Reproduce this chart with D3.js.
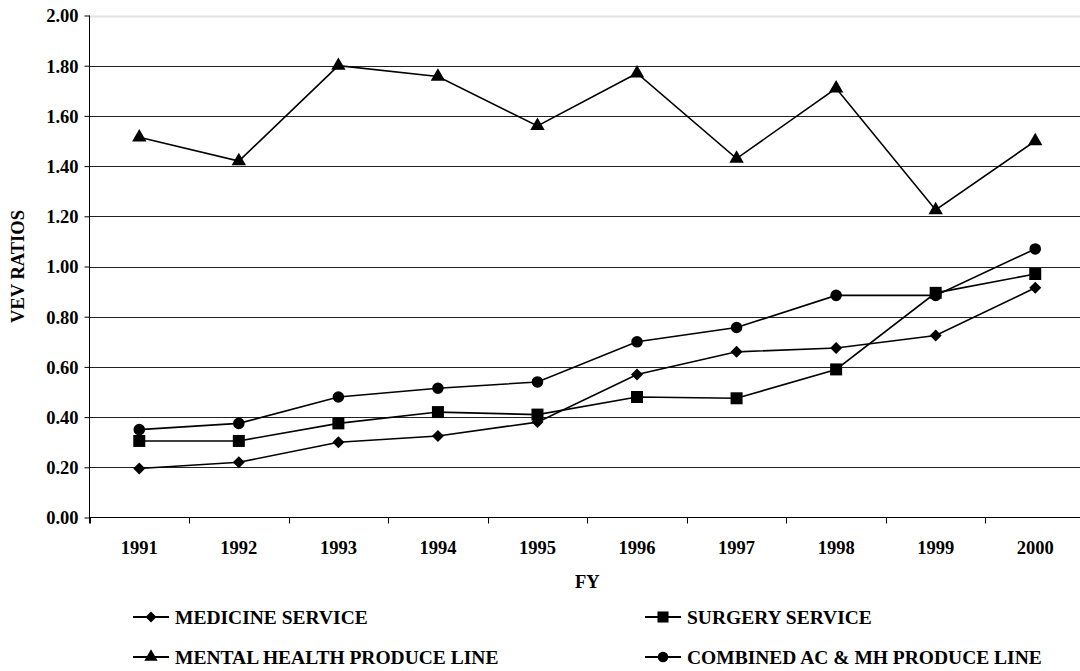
<!DOCTYPE html>
<html>
<head>
<meta charset="utf-8">
<script src="https://cdn.jsdelivr.net/npm/d3@7"></script>
<style>
  body { margin: 0; background: #fff; overflow: hidden; }
  svg text { font-family: "Liberation Serif", "Times New Roman", serif; font-weight: bold; fill: #000; }
</style>
</head>
<body>
<svg id="chart" width="1080" height="671"></svg>
<script>
// data
var years = ['1991', '1992', '1993', '1994', '1995', '1996', '1997', '1998', '1999', '2000'];
var medicine = [0.195, 0.22, 0.30, 0.325, 0.38, 0.57, 0.66, 0.675, 0.725, 0.915];
var surgery = [0.305, 0.305, 0.375, 0.42, 0.41, 0.48, 0.475, 0.59, 0.895, 0.97];
var mentalHealth = [1.515, 1.42, 1.80, 1.757, 1.56, 1.77, 1.43, 1.71, 1.225, 1.50];
var combined = [0.35, 0.375, 0.48, 0.515, 0.54, 0.70, 0.757, 0.885, 0.885, 1.07];
var yTicks = [0, 0.2, 0.4, 0.6, 0.8, 1.0, 1.2, 1.4, 1.6, 1.8, 2.0];

// diamond drawn as a square turned 45 degrees
var diamond = {
  draw: function(context, size) {
    var r = Math.sqrt(size / 2);
    context.moveTo(0, -r);
    context.lineTo(r, 0);
    context.lineTo(0, r);
    context.lineTo(-r, 0);
    context.closePath();
  }
};

var series = [
  { name: 'MEDICINE SERVICE', values: medicine, symbol: diamond, size: 72 },
  { name: 'SURGERY SERVICE', values: surgery, symbol: d3.symbolSquare, size: 144 },
  { name: 'MENTAL HEALTH PRODUCE LINE', values: mentalHealth, symbol: d3.symbolTriangle, size: 90 },
  { name: 'COMBINED AC & MH PRODUCE LINE', values: combined, symbol: d3.symbolCircle, size: 105 }
];

var attrs = {
  left: 89.5, right: 1085, top: 15.5, bottom: 517.5,
  fontSize: '18.5px', legendFontSize: '19.5px'
};
var svg = d3.select('#chart');

var x = d3.scaleBand().domain(years).range([attrs.left, attrs.right]);
var y = d3.scaleLinear().domain([0, 2]).range([attrs.bottom, attrs.top]);

// gridlines
svg.append('g').selectAll('line').data(yTicks.filter(function(d) { return d > 0; }))
  .enter().append('line')
  .attr('x1', attrs.left).attr('x2', attrs.right)
  .attr('y1', function(d) { return Math.round(y(d)) + 0.5; })
  .attr('y2', function(d) { return Math.round(y(d)) + 0.5; })
  .attr('stroke', function(d) { return d === 2 ? '#e2e2e2' : '#222'; })
  .attr('stroke-width', function(d) { return d === 2 ? 2 : 1; });

// y axis
var yAxis = svg.append('g').attr('transform', 'translate(' + attrs.left + ',0)')
  .call(d3.axisLeft(y).tickValues(yTicks).tickFormat(d3.format('.2f')).tickSize(5).tickPadding(6));
yAxis.attr('font-family', null).attr('font-size', null);
yAxis.select('.domain').attr('d', 'M0,' + attrs.top + 'V' + (attrs.bottom + 6)).attr('stroke', '#000');
yAxis.selectAll('.tick line').attr('stroke', '#000');
yAxis.selectAll('text').style('font-size', attrs.fontSize).attr('dy', '0.35em');

// x axis: ticks on category boundaries
var xAxisG = svg.append('g').attr('transform', 'translate(0,' + attrs.bottom + ')');
xAxisG.append('line').attr('x1', attrs.left).attr('x2', attrs.right).attr('stroke', '#000');
xAxisG.selectAll('.xtick').data(years)
  .enter().append('line').attr('class', 'xtick')
  .attr('x1', function(d) { return Math.round(x(d)) + 0.5; })
  .attr('x2', function(d) { return Math.round(x(d)) + 0.5; })
  .attr('y1', 0).attr('y2', 6)
  .attr('stroke', '#000');
xAxisG.selectAll('.xlab').data(years)
  .enter().append('text').attr('class', 'xlab')
  .attr('x', function(d) { return x(d) + x.bandwidth() / 2; })
  .attr('y', 36).attr('text-anchor', 'middle').style('font-size', attrs.fontSize)
  .text(function(d) { return d; });

// axis titles
svg.append('text').attr('x', (attrs.left + attrs.right) / 2).attr('y', 588).attr('text-anchor', 'middle')
  .style('font-size', attrs.fontSize).text('FY');
svg.append('text').attr('transform', 'translate(24,' + ((attrs.top + attrs.bottom) / 2) + ') rotate(-90)')
  .attr('text-anchor', 'middle').style('font-size', attrs.fontSize).text('VEV RATIOS');

// lines and markers
var line = d3.line()
  .x(function(d, i) { return x(years[i]) + x.bandwidth() / 2; })
  .y(function(d) { return y(d); });

series.forEach(function(s) {
  var g = svg.append('g');
  g.append('path').datum(s.values).attr('d', line)
    .attr('fill', 'none').attr('stroke', '#000').attr('stroke-width', 1.6);
  g.selectAll('path.mark').data(s.values).enter().append('path').attr('class', 'mark')
    .attr('d', d3.symbol().type(s.symbol).size(s.size))
    .attr('transform', function(d, i) {
      return 'translate(' + (x(years[i]) + x.bandwidth() / 2) + ',' + y(d) + ')';
    })
    .attr('fill', '#000');
});

// legend
var legendPos = [[151, 617], [663, 617], [151, 657], [663, 657]];
series.forEach(function(s, i) {
  var g = svg.append('g').attr('transform', 'translate(' + legendPos[i][0] + ',' + legendPos[i][1] + ')');
  g.append('line').attr('x1', -18).attr('x2', 18).attr('stroke', '#000').attr('stroke-width', 2);
  g.append('path').attr('d', d3.symbol().type(s.symbol).size(s.size * 0.85)).attr('fill', '#000');
  g.append('text').attr('x', 24).attr('y', 7).style('font-size', attrs.legendFontSize).text(s.name);
});
</script>
</body>
</html>
